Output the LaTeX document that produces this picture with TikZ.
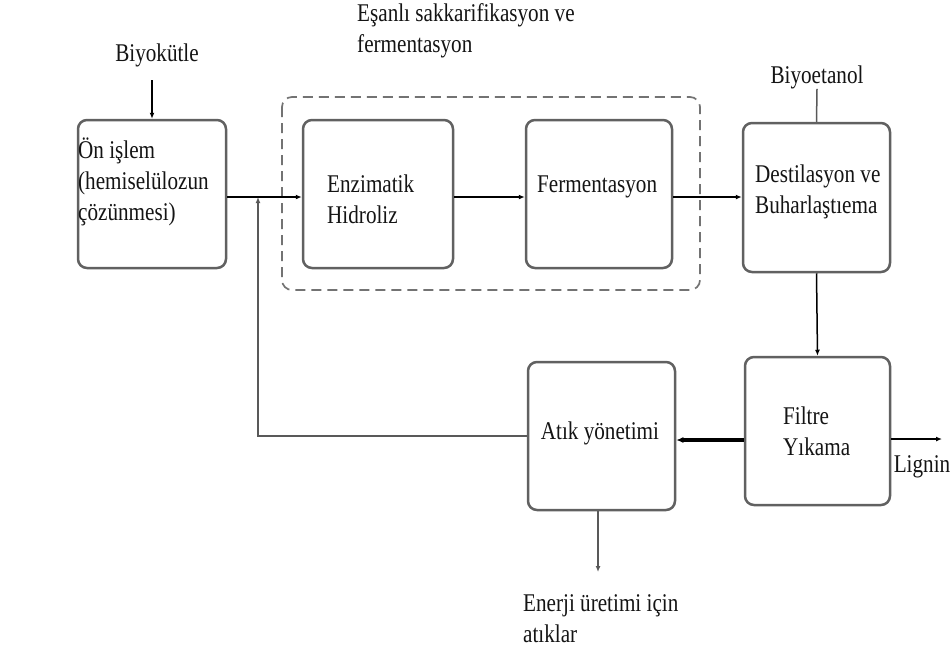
\documentclass[tikz,border=0pt]{standalone}
\usepackage{fontspec}
\setmainfont{Liberation Serif}[FakeStretch=0.83]
\usetikzlibrary{arrows.meta}
\begin{document}
\begin{tikzpicture}[x=1pt,y=-1pt,
  every node/.style={font=\fontsize{25.5}{31}\selectfont, text=black!92, inner sep=0pt},
  procbox/.style={draw=black!62, line width=2.5pt, rounded corners=9pt, minimum width=#1, minimum height=148pt},
  procbox/.default=148pt,
  lbl/.style={align=left},
  flow/.style={draw=black, line width=2.2pt, -{Latex[length=6pt,width=5pt]}},
  thin/.style={draw=black!65, line width=1.5pt}
]
\useasboundingbox (0,0) rectangle (952,651);
\fill[white] (0,0) rectangle (952,651);

% dashed group
\draw[black!55, line width=1.7pt, dash pattern=on 10pt off 6pt, rounded corners=10pt] (282,97) rectangle (700,290);

% boxes
\node[procbox=148pt] (on) at (152,194) {};
\node[procbox=150pt] (enz) at (378,194) {};
\node[procbox=146pt] (fer) at (599,194) {};
\node[procbox=147pt, minimum height=149pt] (des) at (816.5,197.5) {};
\node[procbox=145pt] (fil) at (817.5,431) {};
\node[procbox=147pt] (atk) at (601.5,436) {};

% texts
\node[lbl, anchor=west] (ontx) at (78,182) {Ön işlem\\(hemiselülozun\\çözünmesi)};
\node[lbl, anchor=west] (enztx) at (327,199) {Enzimatik\\Hidroliz};
\node[anchor=west] (fertx) at (537,187) {Fermentasyon};
\node[lbl, anchor=west] (destx) at (755,192) {Destilasyon ve\\Buharlaştıema};
\node[lbl, anchor=west] (filtx) at (783,431) {Filtre\\Yıkama};
\node[anchor=center] (atktx) at (600,433) {Atık yönetimi};
\node[lbl, anchor=west] (sscf) at (357,31) {Eşanlı sakkarifikasyon ve\\fermentasyon};
\node (bio) at (157,55) {Biyokütle};
\node (eta) at (817,77) {Biyoetanol};
\node (lig) at (922,467) {Lignin};
\node[lbl, anchor=west] (ene) at (523,619) {Enerji üretimi için\\atıklar};

% coordinates
\coordinate (b1) at (152,80);
\coordinate (jn) at (258,197);
\coordinate (m1) at (0,197);
\coordinate (m2) at (0,440);
\coordinate (lg) at (942,439);
\coordinate (en) at (598,572);

% connectors
\draw[flow, line width=1.5pt] (b1) -- (on.north);
\draw[flow] (on.east |- m1) -- (enz.west |- m1);
\draw[flow] (enz.east |- m1) -- (fer.west |- m1);
\draw[flow] (fer.east |- m1) -- (des.west |- m1);
\draw[thin] (des.north) -- (eta.south);
\draw[flow, line width=1.5pt] (des.south) -- (fil.north);
\draw[flow, line width=3.2pt, -{Latex[length=7pt,width=6pt]}] (fil.west |- m2) -- (atk.east |- m2);
\draw[flow] (fil.east |- lg) -- (lg);
\draw[thin, -{Latex[length=6pt,width=5pt]}] (atk.west) -| (jn);
\draw[thin, -{Latex[length=6pt,width=5pt]}] (atk.south -| en) -- (en);
\end{tikzpicture}
\end{document}
